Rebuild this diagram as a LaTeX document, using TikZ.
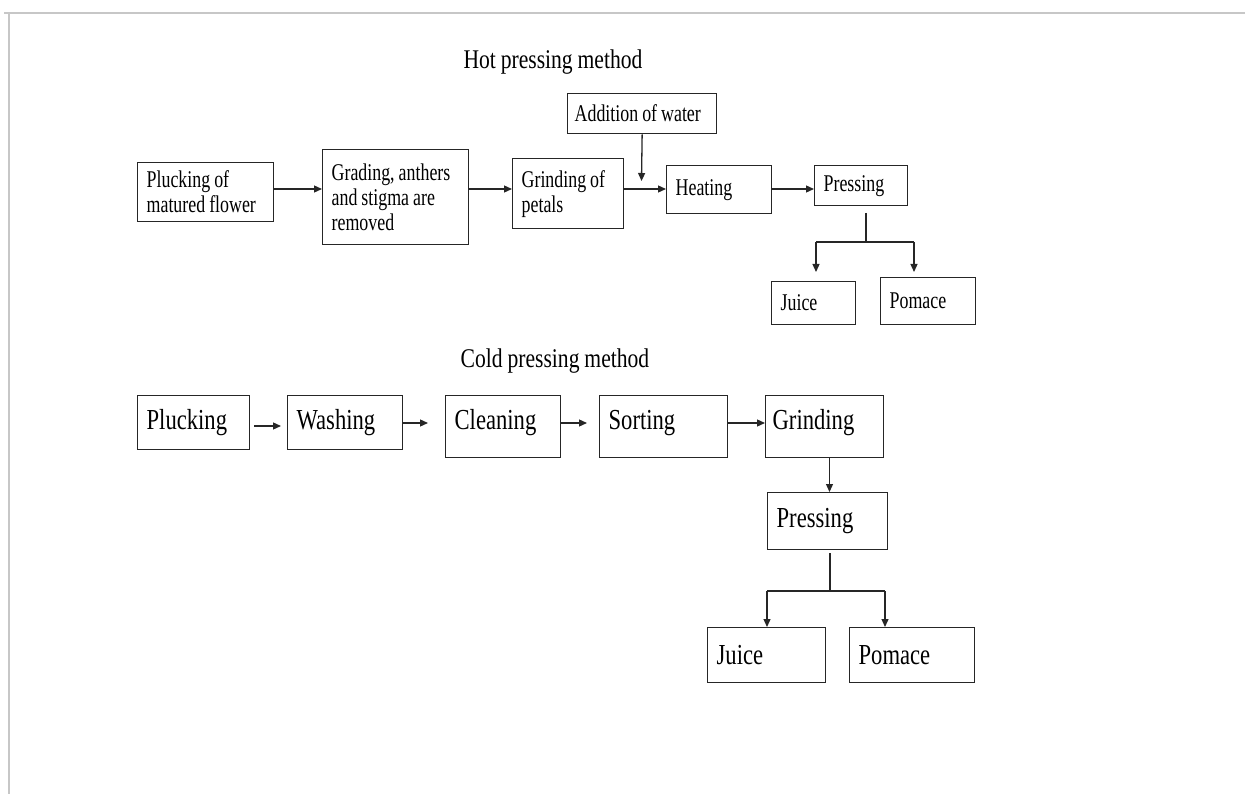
\documentclass[tikz,border=0pt]{standalone}
\usepackage{fontspec}
\setmainfont[FakeStretch=0.78, WordSpace=0.9]{Liberation Serif}
\newfontfamily\hotfont[FakeStretch=0.745, WordSpace=0.9]{Liberation Serif}
\newfontfamily\titlefont[FakeStretch=0.8, WordSpace=0.9]{Liberation Serif}
\usetikzlibrary{arrows.meta,calc}
\begin{document}
\begin{tikzpicture}[x=1pt,y=-1pt,
  box/.style={draw=black!85, line width=1.3pt, inner xsep=9pt, inner ysep=0pt, align=flush left, anchor=north west},
  hot/.style={box, font=\hotfont\fontsize{24}{25}\selectfont},
  cold/.style={box, font=\fontsize{29}{31}\selectfont},
  tall/.style={text height=34pt, text depth=28pt},
  title/.style={font=\titlefont\fontsize{27}{29}\selectfont, anchor=base, inner sep=0pt},
  arr/.style={draw=black!85, line width=1.3pt, -{Triangle[length=8pt,width=7pt]}},
  ln/.style={draw=black!85, line width=1.3pt},
  frame/.style={draw=black!22, line width=2.2pt}]
\useasboundingbox (0,0) rectangle (1245,794);
\draw[frame] (4,13) -- (1245,13);
\draw[frame] (9,13) -- (9,794);

% ---------- Hot pressing ----------
\node[title] (t1) at (553,69) {Hot pressing method};
\node[hot, text width=118, minimum height=59] (h1) at (137,162) {Plucking of\\matured flower};
\node[hot, text width=128, minimum height=95] (h2) at (322,149) {Grading, anthers\\and stigma are\\removed};
\node[hot, text width=93, minimum height=70] (h3) at (512,158) {Grinding of\\petals};
\node[hot, text width=135, inner xsep=7pt, minimum height=40] (hw) at (567,93) {Addition of water};
\node[hot, text width=87, minimum height=48] (h4) at (666,165) {Heating};
\node[hot, text width=75, minimum height=40] (h5) at (814,165) {Pressing};
\node[hot, text width=66, minimum height=43] (h6) at (771,281) {Juice};
\node[hot, text width=77, minimum height=47] (h7) at (880,277) {Pomace};

\coordinate (hy) at (0,189);
\coordinate (wend) at (641.5,181);
\coordinate (hs1) at (866,213);
\coordinate (hs2) at (866,242);
\coordinate (hjl) at (816,242);
\coordinate (hjr) at (914,242);
\coordinate (hje) at (0,272);

\draw[arr] (h1.east |- hy) -- (h2.west |- hy);
\draw[arr] (h2.east |- hy) -- (h3.west |- hy);
\draw[arr] (h3.east |- hy) -- (h4.west |- hy);
\draw[arr] (hw.south) -- (wend);
\draw[arr] (h4.east |- hy) -- (h5.west |- hy);
\draw[ln] (hs1) -- (hs2);
\draw[ln] (hjl) -- (hjr);
\draw[arr] (hjl) -- (hjl |- hje);
\draw[arr] (hjr) -- (hjr |- hje);

% ---------- Cold pressing ----------
\node[title] (t2) at (555,367) {Cold pressing method};
\node[cold, text width=94, minimum height=54] (c1) at (137,395) {Plucking};
\node[cold, text width=97, minimum height=54] (c2) at (287,395) {Washing};
\node[cold, tall, text width=97] (c3) at (445,395) {Cleaning};
\node[cold, tall, text width=110] (c4) at (599,395) {Sorting};
\node[cold, tall, text width=104, inner xsep=7pt] (c5) at (765,395) {Grinding};
\node[cold, text width=102, minimum height=57] (c6) at (767,492) {Pressing};
\node[cold, text width=100, minimum height=55] (c7) at (707,627) {Juice};
\node[cold, text width=107, minimum height=55] (c8) at (849,627) {Pomace};

\coordinate (cy1) at (0,426);
\coordinate (cy) at (0,423);
\coordinate (cx) at (829.5,0);
\coordinate (cs1) at (830,553);
\coordinate (cs2) at (830,591);
\coordinate (csl) at (767,591);
\coordinate (csr) at (885,591);

\draw[arr] ($(c1.east |- cy1)+(4,0)$) -- ($(c2.west |- cy1)+(-6,0)$);
\draw[arr] (c2.east |- cy) -- ($(c3.west |- cy)+(-17,0)$);
\draw[arr] (c3.east |- cy) -- ($(c4.west |- cy)+(-12,0)$);
\draw[arr] (c4.east |- cy) -- (c5.west |- cy);
\draw[arr] (c5.south -| cx) -- (c6.north -| cx);
\draw[ln] (cs1) -- (cs2);
\draw[ln] (csl) -- (csr);
\draw[arr] (csl) -- (c7.north -| csl);
\draw[arr] (csr) -- (c8.north -| csr);
\end{tikzpicture}
\end{document}
